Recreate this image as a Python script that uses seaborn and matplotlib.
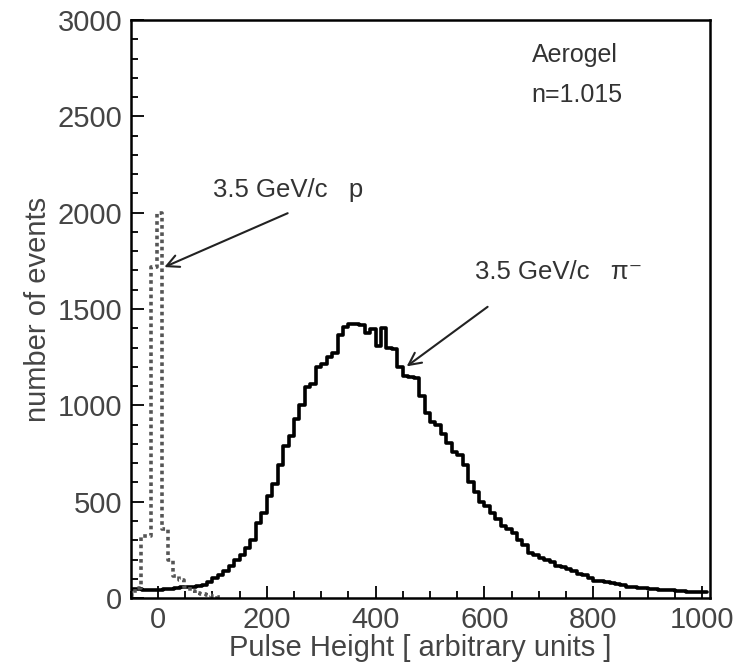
import numpy as np
import matplotlib
matplotlib.use("Agg")
import matplotlib.pyplot as plt
from matplotlib.ticker import MultipleLocator
import seaborn as sns

# pion histogram: left bin edges (width 10) and counts
pion_edges = list(range(-50, 1010, 10))
pion_counts = [48, 45, 42, 44, 40, 42, 45, 48, 50, 55,
               58, 60, 62, 70, 85, 105, 122, 140, 165, 200,
               225, 260, 300, 390, 440, 530, 590, 690, 790, 840,
               930, 1000, 1095, 1110, 1200, 1215, 1250, 1270, 1365, 1405,
               1420, 1420, 1415, 1375, 1395, 1310, 1400, 1300, 1290, 1200,
               1150, 1145, 1140, 1050, 960, 915, 900, 850, 805, 760,
               740, 690, 600, 550, 500, 480, 440, 410, 375, 360,
               340, 300, 275, 235, 225, 210, 200, 185, 165, 160,
               150, 140, 125, 118, 105, 90, 88, 85, 80, 75,
               68, 60, 56, 54, 50, 48, 46, 44, 42, 40,
               38, 35, 34, 32, 30, 30]

# proton histogram (dotted)
proton_edges = list(range(-52, 118, 10))
proton_counts = [15, 50, 320, 320, 1720, 2000, 360, 200, 115, 95,
                 55, 35, 25, 20, 15, 10, 8]

xlabel = "Pulse Height [ arbitrary units ]"
ylabel = "number of events"

sns.set_theme(style="ticks")
plt.rcParams['font.family'] = ['Liberation Sans', 'DejaVu Sans']

fig = plt.figure(figsize=(7.39, 6.66), dpi=100)
ax = fig.add_axes([0.177, 0.102, 0.784, 0.868])

pc = np.array(pion_edges) + 5
sns.histplot(x=pc, weights=pion_counts, bins=pion_edges + [pion_edges[-1] + 10],
             element="step", fill=False, color="black", linewidth=2.6, ax=ax)
prc = np.array(proton_edges) + 5
sns.histplot(x=prc, weights=proton_counts, bins=proton_edges + [proton_edges[-1] + 10],
             element="step", fill=False, color="#555555", linewidth=2.6,
             linestyle=(0, (1, 1)), ax=ax)

ax.set_xlim(-50, 1015)
ax.set_ylim(0, 3000)
ax.xaxis.set_major_locator(MultipleLocator(200))
ax.xaxis.set_minor_locator(MultipleLocator(50))
ax.yaxis.set_major_locator(MultipleLocator(500))
ax.yaxis.set_minor_locator(MultipleLocator(100))
ax.tick_params(which="both", direction="in", colors="black", labelcolor="#444444",
               labelsize=21, width=1.3)
ax.tick_params(which="major", length=9, pad=6)
ax.tick_params(which="minor", length=5)
for s in ax.spines.values():
    s.set_linewidth(1.8)
    s.set_color("black")

ax.set_xlabel(xlabel, fontsize=21, color="#444444", labelpad=0)
ax.set_ylabel(ylabel, fontsize=21, color="#444444", labelpad=4)

ax.text(687, 2818, "Aerogel", fontsize=18, color="#333333", va="center")
ax.text(687, 2610, "n=1.015", fontsize=18, color="#333333", va="center")

ax.annotate("", xy=(7, 1712), xytext=(243, 2003),
            arrowprops=dict(arrowstyle="->", color="#222222", lw=1.5,
                            mutation_scale=22))
ax.text(101, 2117, "3.5 GeV/c   p", fontsize=18.5, color="#333333", va="center")

ax.annotate("", xy=(453, 1194), xytext=(610, 1520),
            arrowprops=dict(arrowstyle="->", color="#222222", lw=1.5,
                            mutation_scale=22))
ax.text(582, 1692, "3.5 GeV/c   π⁻", fontsize=18.5, color="#333333", va="center")

fig.savefig("out.png", dpi=100)
